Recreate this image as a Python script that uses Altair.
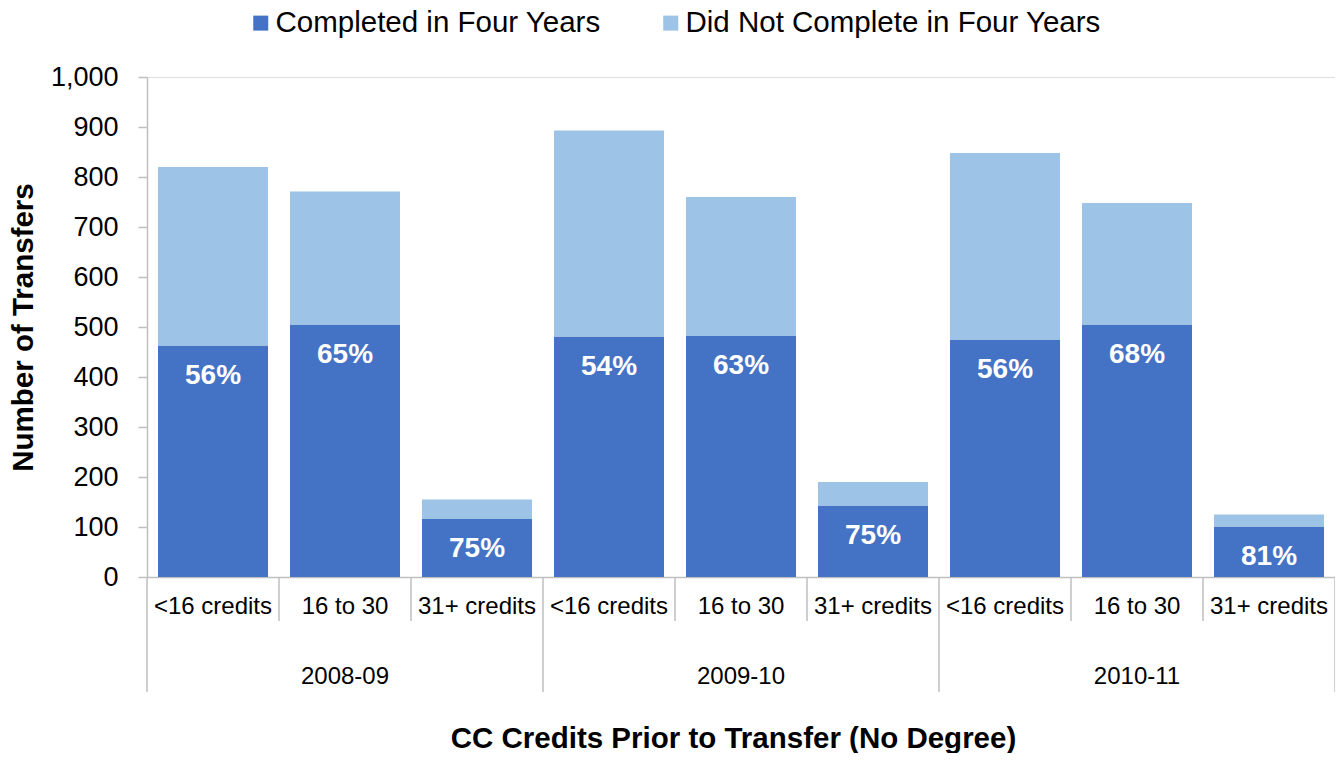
import altair as alt
import pandas as pd

# ---- data ----
years = ["2008-09", "2009-10", "2010-11"]
credit_bins = ["<16 credits", "16 to 30", "31+ credits"]
completed = [463, 505, 116, 481, 482, 143, 475, 505, 101]
totals = [820, 771, 155, 893, 760, 190, 848, 748, 125]
pct_labels = ["56%", "65%", "75%", "54%", "63%", "75%", "56%", "68%", "81%"]
series = ["Completed in Four Years", "Did Not Complete in Four Years"]
colors = ["#4472C4", "#9DC3E6"]
y_ticks = [0, 100, 200, 300, 400, 500, 600, 700, 800, 900, 1000]

FONT = "Liberation Sans"
GRAY = "#BFBFBF"

rows = []
bars = []
i = 0
for gi, yr in enumerate(years):
    for ci, cb in enumerate(credit_bins):
        comp = completed[i]
        notc = totals[i] - comp
        rows.append({"idx": i, "year": yr, "credits": cb, "series": series[0], "ord": 0, "value": comp})
        rows.append({"idx": i, "year": yr, "credits": cb, "series": series[1], "ord": 1, "value": notc})
        bars.append({"idx": i, "year": yr, "credits": cb, "completed": comp, "pct": pct_labels[i]})
        i += 1
df = pd.DataFrame(rows)
bars_df = pd.DataFrame(bars)

n = len(bars)
groups_df = pd.DataFrame({"gi": list(range(len(years))), "year": years})
dividers_short = pd.DataFrame({"pos": [k for k in range(n + 1) if k % 3 != 0]})
dividers_long = pd.DataFrame({"pos": [k for k in range(n + 1) if k % 3 == 0]})

xscale = alt.Scale(domain=[0, n], nice=False, zero=False)
yscale = alt.Scale(domain=[0, 1000], nice=False)

bar_layer = alt.Chart(df).transform_stack(
    stack="value", groupby=["idx"], as_=["y0", "y1"],
    sort=[alt.SortField("ord", order="ascending")]
).transform_calculate(
    x0="datum.idx + 0.0833", x1="datum.idx + 0.9167"
).mark_bar().encode(
    x=alt.X("x0:Q", scale=xscale,
            axis=alt.Axis(labels=False, ticks=False, grid=False, domain=True,
                          domainColor=GRAY, domainWidth=1.5,
                          title="CC Credits Prior to Transfer (No Degree)",
                          titleFont=FONT, titleFontSize=29.5, titleFontWeight="bold",
                          titleColor="black", titleX=586, titleY=170,
                          titleBaseline="alphabetic", titleAlign="center")),
    x2="x1:Q",
    y=alt.Y("y0:Q", scale=yscale,
            axis=alt.Axis(values=y_ticks, format=",d", grid=False,
                          domainColor=GRAY, domainWidth=1.5, tickColor=GRAY,
                          tickWidth=1.5, tickSize=9, labelPadding=20,
                          labelFont=FONT, labelFontSize=27, labelColor="black",
                          title="Number of Transfers", titleFont=FONT,
                          titleFontSize=29.5, titleFontWeight="bold", titleColor="black",
                          titleX=-115, titleY=250, titleAngle=270,
                          titleBaseline="alphabetic", titleAlign="center")),
    y2="y1:Q",
    color=alt.Color("series:N", scale=alt.Scale(domain=series, range=colors),
                    legend=alt.Legend(title=None, orient="none", direction="horizontal",
                                      legendX=99, legendY=-69, symbolType="square",
                                      symbolSize=225, symbolStrokeWidth=0,
                                      labelFont=FONT, labelFontSize=29.5, labelColor="black",
                                      labelOffset=0, columnPadding=55, padding=0,
                                      labelLimit=600)),
)

pct_layer = alt.Chart(bars_df).transform_calculate(
    xc="datum.idx + 0.5"
).mark_text(font=FONT, fontSize=28, fontWeight="bold", color="white",
            baseline="alphabetic", align="center", dy=38).encode(
    x=alt.X("xc:Q", scale=xscale),
    y=alt.Y("completed:Q", scale=yscale),
    text="pct:N",
)

cat_layer = alt.Chart(bars_df).transform_calculate(
    xc="datum.idx + 0.5"
).mark_text(font=FONT, fontSize=24, color="black",
            baseline="alphabetic", align="center").encode(
    x=alt.X("xc:Q", scale=xscale),
    y=alt.value(537),
    text="credits:N",
)

grp_layer = alt.Chart(groups_df).transform_calculate(
    xc="datum.gi * 3 + 1.5"
).mark_text(font=FONT, fontSize=24, color="black",
            baseline="alphabetic", align="center").encode(
    x=alt.X("xc:Q", scale=xscale),
    y=alt.value(607),
    text="year:N",
)

short_rules = alt.Chart(dividers_short).mark_rule(color=GRAY, strokeWidth=1.5).encode(
    x=alt.X("pos:Q", scale=xscale),
    y=alt.value(500),
    y2=alt.value(544),
)

long_rules = alt.Chart(dividers_long).mark_rule(color=GRAY, strokeWidth=1.5).encode(
    x=alt.X("pos:Q", scale=xscale),
    y=alt.value(500),
    y2=alt.value(615),
)

chart = alt.layer(
    bar_layer, short_rules, long_rules, pct_layer, cat_layer, grp_layer
).properties(
    width=1188,
    height=500,
    padding={"left": 139, "top": 69, "right": 0, "bottom": 176},
    autosize=alt.AutoSizeParams(type="none"),
    background="white",
).configure_view(stroke=None).configure(font=FONT)

chart.save("out.html", embed_options={"renderer": "svg", "actions": False})
